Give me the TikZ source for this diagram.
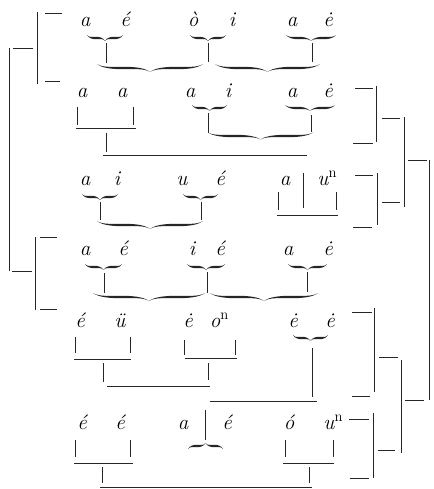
\documentclass[tikz,border=0pt]{standalone}
\colorlet{ink}{black!85}
\newcommand\hbr[5]{% #1 end x, #2 tip x, #3 y, #4 h (tip offset, + = down), #5 half thickness
  \pgfmathsetmacro\bL{#2-(#1)}%
  \pgfmathsetmacro\bq{#1+\bL/2}%
  \pgfmathsetmacro\bxa{#1+0.1*\bL}%
  \pgfmathsetmacro\bxb{#1+0.3*\bL}%
  \pgfmathsetmacro\bxc{#2-0.3*\bL}%
  \pgfmathsetmacro\bxd{#2-0.1*\bL}%
  \pgfmathsetmacro\byE{#3-(#4)}%
  \pgfmathsetmacro\byT{#3+(#4)}%
  \pgfmathsetmacro\byU{#3-(#5)}%
  \pgfmathsetmacro\byD{#3+(#5)}%
  \pgfmathsetmacro\byUs{#3-0.25*(#5)}%
  \pgfmathsetmacro\byDs{#3+0.25*(#5)}%
  \fill[ink] (#1,\byE) .. controls (\bxa,\byUs) and (\bxb,\byU) .. (\bq,\byU)
     .. controls (\bxc,\byU) and (\bxd,\byUs) .. (#2,\byT)
     .. controls (\bxd,\byDs) and (\bxc,\byD) .. (\bq,\byD)
     .. controls (\bxb,\byD) and (\bxa,\byDs) .. cycle;}
\newcommand\tbrace[4]{\pgfmathsetmacro\bmid{(#1+#2)/2}\hbr{#1}{\bmid}{#3}{#4}{1.2}\hbr{#2}{\bmid}{#3}{#4}{1.2}}
\newcommand\nsup{\rlap{\textsuperscript{\upshape n}}}
\begin{document}
\begin{tikzpicture}[x=1pt,y=-1pt,
  ltr/.style={anchor=base,inner sep=0pt,font=\fontsize{21}{25}\selectfont\itshape},
  rule/.style={draw=ink,line width=0.9pt}]
\useasboundingbox (0,0) rectangle (433,489);
% ---- row 1
\node[ltr] (r1a) at (85,27) {a};
\node[ltr] (r1b) at (125,27) {\'e};
\node[ltr] (r1c) at (193,27) {\`o};
\node[ltr] (r1d) at (232,27) {i};
\node[ltr] (r1e) at (292,27) {a};
\node[ltr] (r1f) at (328,27) {\.e};
\tbrace{87}{123}{38}{3}
\tbrace{190}{226}{38}{3}
\tbrace{286}{336}{38}{3}
\draw[rule] (106,43) -- (106,63);
\draw[rule] (208,43) -- (208,62);
\draw[rule] (312,43) -- (312,62);
\tbrace{97}{203}{68}{4}
\tbrace{215}{320}{68}{4}
% ---- row 2
\node[ltr] (r2a) at (82,98) {a};
\node[ltr] (r2b) at (122,98) {a};
\node[ltr] (r2c) at (190,98) {a};
\node[ltr] (r2d) at (228,98) {i};
\node[ltr] (r2e) at (292,98) {a};
\node[ltr] (r2f) at (328,98) {\.e};
\draw[rule] (77,107) -- (77,125);
\draw[rule] (133,107) -- (133,125);
\draw[rule] (76,128) -- (136,128);
\draw[rule] (106,133) -- (106,152);
\draw[rule] (103,155) -- (307,155);
\tbrace{192}{227}{108}{3}
\draw[rule] (208,113) -- (208,133);
\tbrace{285}{335}{108}{3}
\draw[rule] (311,115) -- (311,132);
\tbrace{208}{313}{136}{3.5}
% ---- row 3
\node[ltr] (r3a) at (85,185) {a};
\node[ltr] (r3b) at (117,185) {i};
\node[ltr] (r3c) at (182,185) {u};
\node[ltr] (r3d) at (220,185) {\'e};
\node[ltr] (r3e) at (285,185) {a};
\node[ltr] (r3f) at (323,185) {u\nsup};
\tbrace{82}{118}{197}{3}
\draw[rule] (100,202) -- (100,220);
\tbrace{183}{218}{197}{3}
\draw[rule] (201,202) -- (201,220);
\tbrace{97}{203}{225}{4}
\draw[rule] (303,173) -- (303,208);
\draw[rule] (278,192) -- (278,210);
\draw[rule] (336,192) -- (336,210);
\draw[rule] (277,215) -- (338,215);
% ---- row 4
\node[ltr] (r4a) at (85,255) {a};
\node[ltr] (r4b) at (123,255) {\'e};
\node[ltr] (r4c) at (192,255) {i};
\node[ltr] (r4d) at (220,255) {\'e};
\node[ltr] (r4e) at (288,255) {a};
\node[ltr] (r4f) at (328,255) {\.e};
\tbrace{85}{122}{267}{3}
\draw[rule] (104,273) -- (104,293);
\tbrace{187}{225}{267}{3}
\draw[rule] (207,272) -- (207,293);
\tbrace{288}{327}{267}{3}
\draw[rule] (307,272) -- (307,292);
\tbrace{93}{205}{297}{4}
\tbrace{210}{318}{297}{4}
% ---- row 5
\node[ltr] (r5a) at (80,327) {\'e};
\node[ltr] (r5b) at (120,327) {\"u};
\node[ltr] (r5c) at (188,327) {\.e};
\node[ltr] (r5d) at (215,327) {o\nsup};
\node[ltr] (r5e) at (293,327) {\.e};
\node[ltr] (r5f) at (330,327) {\.e};
\draw[rule] (75,337) -- (75,353);
\draw[rule] (130,337) -- (130,353);
\draw[rule] (74,359) -- (131,359);
\draw[rule] (103,363) -- (103,382);
\draw[rule] (107,386) -- (210,386);
\draw[rule] (184,340) -- (184,355);
\draw[rule] (235,340) -- (235,355);
\draw[rule] (185,358) -- (237,358);
\draw[rule] (208,363) -- (208,380);
\tbrace{293}{328}{338}{3}
\draw[rule] (312,348) -- (312,397);
\draw[rule] (210,401) -- (317,401);
% ---- row 6
\node[ltr] (r6a) at (82,429) {\'e};
\node[ltr] (r6b) at (120,429) {\'e};
\node[ltr] (r6c) at (183,429) {a};
\node[ltr] (r6d) at (227,429) {\'e};
\node[ltr] (r6e) at (289,429) {\'o};
\node[ltr] (r6f) at (329,429) {u\nsup};
\draw[rule] (205,410) -- (205,440);
\tbrace{188}{223}{446}{-3}
\draw[rule] (75,440) -- (75,457);
\draw[rule] (130,440) -- (130,457);
\draw[rule] (74,463) -- (133,463);
\draw[rule] (102,467) -- (102,483);
\draw[rule] (100,487) -- (312,487);
\draw[rule] (285,440) -- (285,457);
\draw[rule] (333,440) -- (333,457);
\draw[rule] (283,463) -- (334,463);
\draw[rule] (309,467) -- (309,483);
% ---- left brackets
\draw[rule] (37,12) -- (37,84);
\draw[rule] (45,13) -- (62,13);
\draw[rule] (45,81) -- (60,81);
\draw[rule] (13,48) -- (33,48);
\draw[rule] (9,48) -- (9,271);
\draw[rule] (35,237) -- (35,310);
\draw[rule] (40,237) -- (57,237);
\draw[rule] (40,309) -- (57,309);
\draw[rule] (12,271) -- (32,271);
% ---- right brackets
\draw[rule] (355,88) -- (373,88);
\draw[rule] (376,86) -- (376,142);
\draw[rule] (353,143) -- (373,143);
\draw[rule] (382,118) -- (400,118);
\draw[rule] (355,175) -- (373,175);
\draw[rule] (377,173) -- (377,225);
\draw[rule] (353,227) -- (372,227);
\draw[rule] (382,202) -- (400,202);
\draw[rule] (404,117) -- (404,207);
\draw[rule] (408,160) -- (427,160);
\draw[rule] (429,160) -- (429,400);
\draw[rule] (352,312) -- (372,312);
\draw[rule] (374,308) -- (374,392);
\draw[rule] (352,396) -- (370,396);
\draw[rule] (379,357) -- (398,357);
\draw[rule] (349,419) -- (369,419);
\draw[rule] (373,413) -- (373,478);
\draw[rule] (350,478) -- (369,478);
\draw[rule] (378,450) -- (395,450);
\draw[rule] (401,360) -- (401,453);
\draw[rule] (405,400) -- (424,400);
\end{tikzpicture}
\end{document}
